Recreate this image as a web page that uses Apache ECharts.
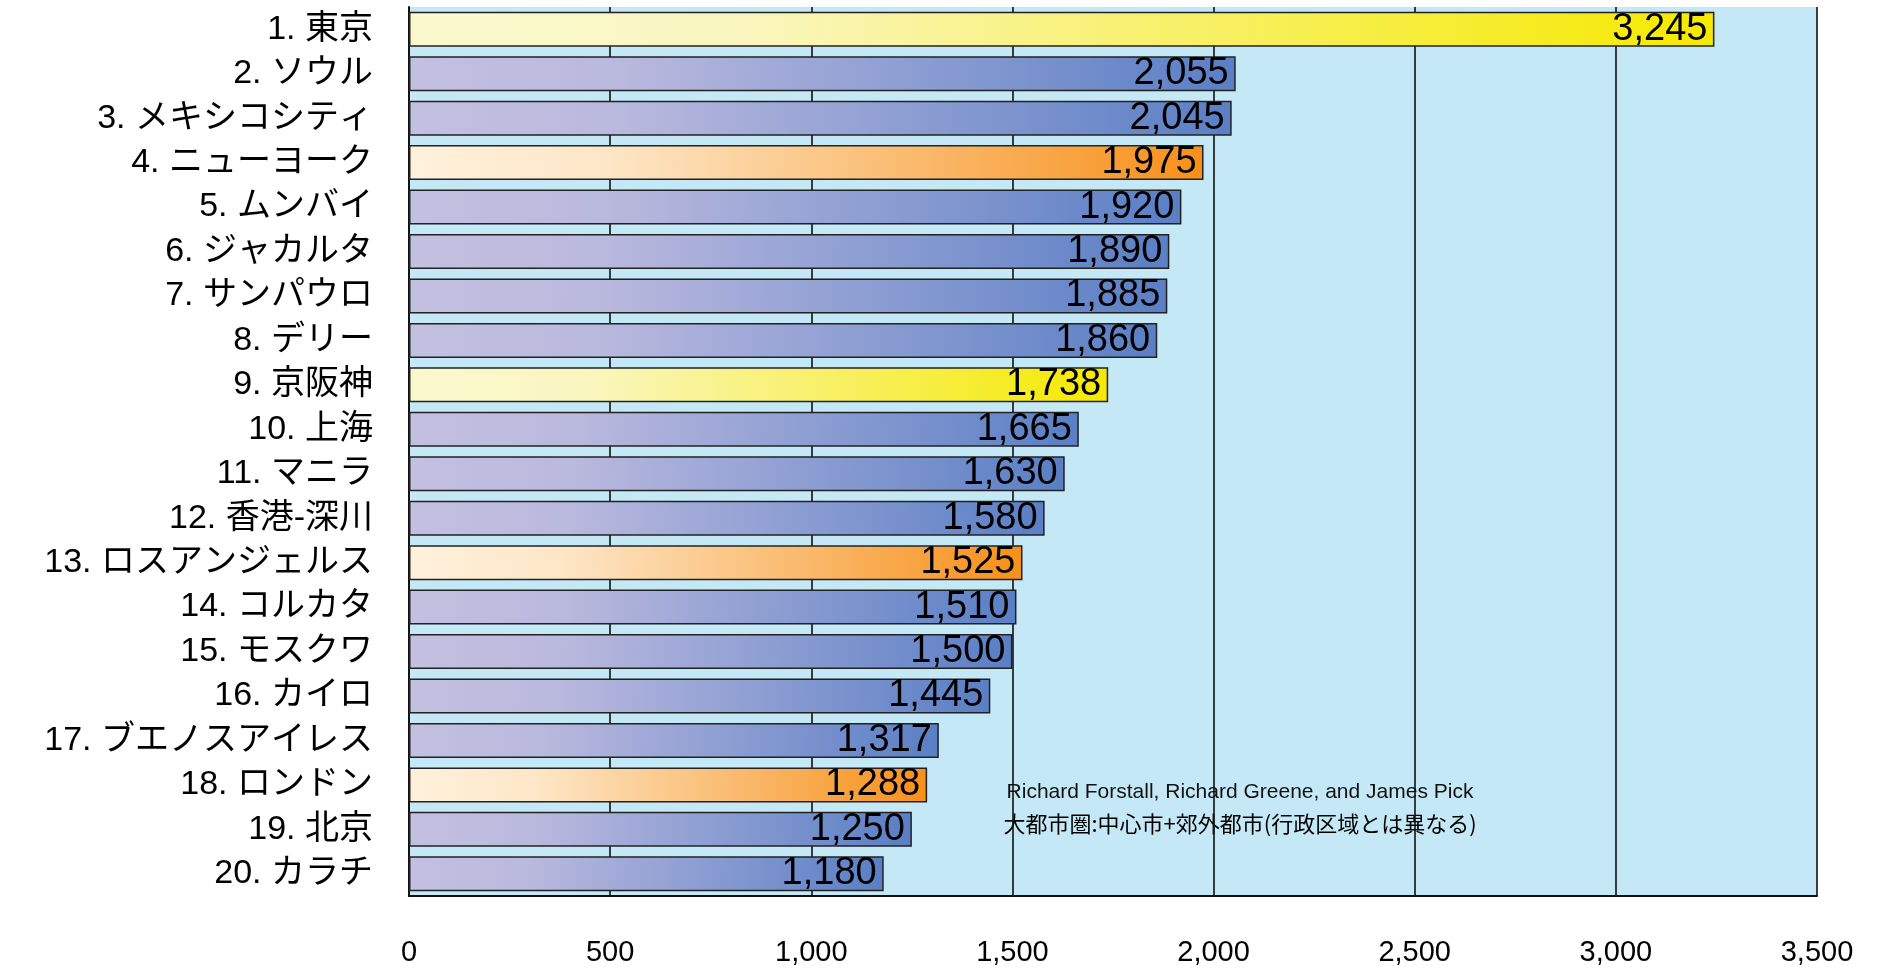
<!DOCTYPE html>
<html><head><meta charset="utf-8">
<script src="https://cdn.jsdelivr.net/npm/echarts@6/dist/echarts.min.js"></script>
<style>html,body{margin:0;padding:0;background:#fff}#c{width:1883px;height:972px}</style>
</head><body><div id="c"></div>
<script>
const categories = ['1. 東京','2. ソウル','3. メキシコシティ','4. ニューヨーク','5. ムンバイ','6. ジャカルタ','7. サンパウロ','8. デリー','9. 京阪神','10. 上海','11. マニラ','12. 香港-深川','13. ロスアンジェルス','14. コルカタ','15. モスクワ','16. カイロ','17. ブエノスアイレス','18. ロンドン','19. 北京','20. カラチ'];
const values = [3245,2055,2045,1975,1920,1890,1885,1860,1738,1665,1630,1580,1525,1510,1500,1445,1317,1288,1250,1180];
const colorGroup = ['y','b','b','o','b','b','b','b','y','b','b','b','o','b','b','b','b','o','b','b'];
const noteLines = ['Richard Forstall, Richard Greene, and James Pick','大都市圏:中心市+郊外都市(行政区域とは異なる)'];

const fam = '"Liberation Sans","Noto Sans CJK JP",sans-serif';
function grad(c0, c1, c2){
  return new echarts.graphic.LinearGradient(0,0,1,0.35,[{offset:0,color:c0},{offset:0.25,color:c1},{offset:1,color:c2}]);
}
const fills = {
  b: () => grad('#c3c0e0','#bab9de','#5a7fc5'),
  y: () => grad('#fbf8cf','#faf6c0','#f5e900'),
  o: () => grad('#fff1dc','#fde6c6','#f7901a')
};
const data = values.map((v,i)=>({value:v,itemStyle:{color:fills[colorGroup[i]]()}}));

const chart = echarts.init(document.getElementById('c'));
chart.setOption({
  animation:false,
  grid:{left:409,right:66,top:7,bottom:76,show:true,backgroundColor:'#c5e8f6',borderWidth:0},
  xAxis:{type:'value',min:0,max:3500,interval:500,
    axisLine:{show:true,lineStyle:{color:'#111',width:2}},
    axisTick:{show:false},
    splitLine:{show:true,lineStyle:{color:'#111',width:1.6}},
    axisLabel:{color:'#000',fontFamily:fam,fontSize:29,margin:42,
      formatter:v=>v.toLocaleString('en-US')}},
  yAxis:{type:'category',data:categories,inverse:true,
    axisLine:{show:true,lineStyle:{color:'#111',width:2}},
    axisTick:{show:false},
    axisLabel:{color:'#000',fontFamily:fam,fontSize:34,margin:36,interval:0}},
  series:[{type:'bar',data:data,barWidth:35,
    itemStyle:{borderColor:'#222',borderWidth:1.5},
    label:{show:true,position:'insideRight',distance:7,color:'#000',fontFamily:'"Liberation Sans",sans-serif',fontSize:38,
      formatter:p=>p.value.toLocaleString('en-US')}}],
  graphic:[
    {type:'text',x:1240,y:792,style:{text:noteLines[0],fill:'#111',font:'21px "Liberation Sans",sans-serif',textAlign:'center',textVerticalAlign:'middle'}},
    {type:'text',x:1240,y:824,style:{text:noteLines[1],fill:'#000',font:'22px "Noto Sans CJK JP",sans-serif',textAlign:'center',textVerticalAlign:'middle'}}
  ]
});
</script></body></html>
